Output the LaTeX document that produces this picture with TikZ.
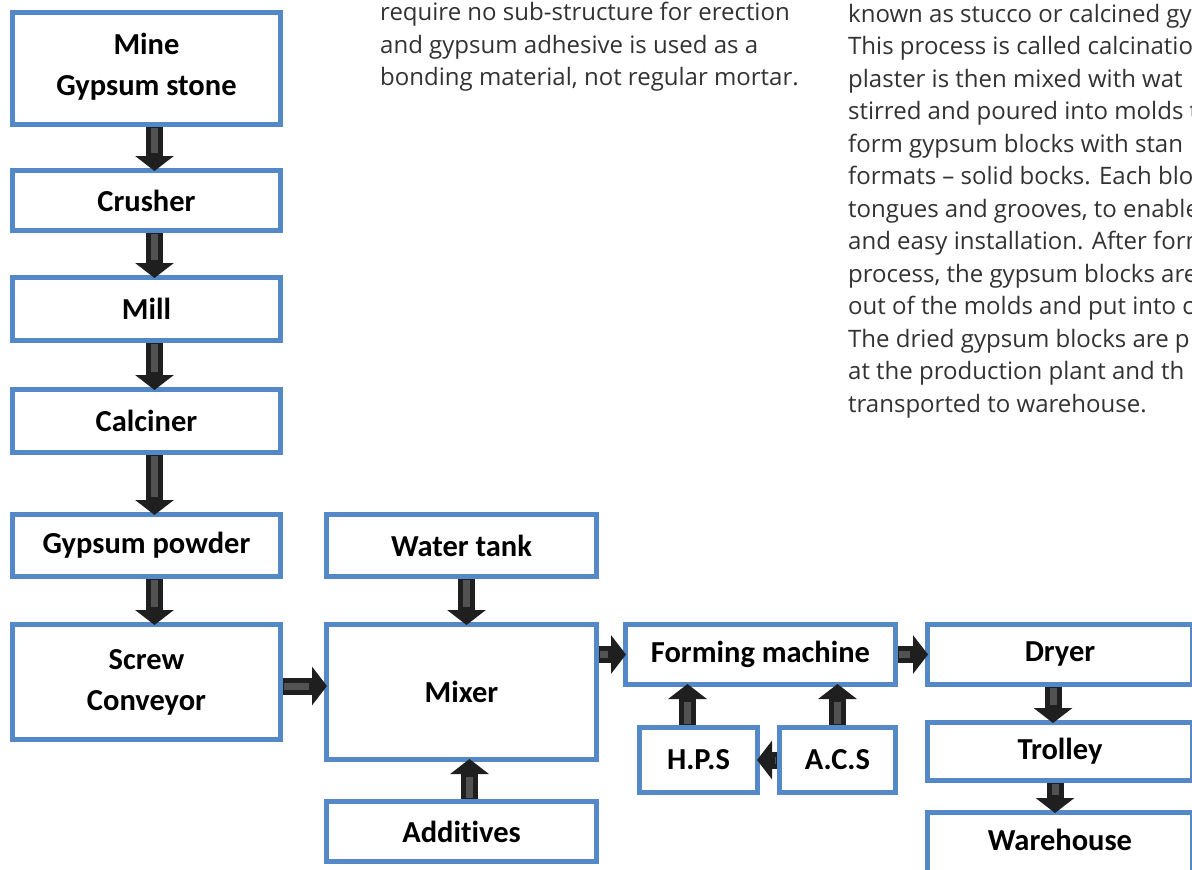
\documentclass[tikz,border=0pt]{standalone}
\usepackage{fontspec}
\usetikzlibrary{arrows.meta,calc}
\setmainfont{Carlito}[Ligatures=NoCommon]
\newfontfamily\bodyfont{Open Sans}
\definecolor{boxblue}{RGB}{84,136,198}
\definecolor{bodygray}{RGB}{50,50,50}
\tikzset{
  box/.style={draw=boxblue, line width=5pt, fill=white, inner sep=0pt, align=center,
    text=black, font=\bfseries\fontsize{30.5}{41}\selectfont},
  flowarrow/.style={draw=black!88, line width=17pt, -{Triangle[width=38pt,length=15pt]},
    shorten >=-3pt,
    postaction={draw=black!68, line width=7pt, -, shorten >=15pt, shorten <=1pt}},
  bodytext/.style={anchor=base west, inner sep=0pt, text=bodygray,
    font=\bodyfont\fontsize{24}{32}\selectfont}
}
\begin{document}
\begin{tikzpicture}[x=1pt,y=-1pt]
\useasboundingbox (0,0) rectangle (1192,870);
\clip (0,0) rectangle (1192,870);
% left column
\node[box, minimum width=268pt, minimum height=112pt] (mine) at (146.5,68.5) {Mine\\Gypsum stone\\[-32pt]\mbox{}};
\node[box, minimum width=268pt, minimum height=60pt] (crusher) at (146.5,200.5) {Crusher};
\node[box, minimum width=268pt, minimum height=63pt] (mill) at (146.5,309) {Mill};
\node[box, minimum width=268pt, minimum height=63pt] (calciner) at (146.5,421) {Calciner};
\node[box, minimum width=268pt, minimum height=62pt] (powder) at (146.5,545.5) {Gypsum powder};
\node[box, minimum width=268pt, minimum height=115pt] (screw) at (146.5,682) {Screw\\Conveyor};
% middle column
\node[box, minimum width=270pt, minimum height=62pt] (water) at (461.5,545.5) {Water tank};
\node[box, minimum width=270pt, minimum height=135pt] (mixer) at (461.5,692) {Mixer};
\node[box, minimum width=270pt, minimum height=60pt] (additives) at (461.5,831.5) {Additives};
% forming group
\node[box, minimum width=270pt, minimum height=60pt] (forming) at (760.5,654.5) {Forming machine};
\node[box, minimum width=118pt, minimum height=65pt] (hps) at (698.5,760) {H.P.S};
\node[box, minimum width=116pt, minimum height=65pt] (acs) at (837.5,760) {A.C.S};
% right column
\node[box, minimum width=265pt, minimum height=60pt] (dryer) at (1060,654.5) {Dryer};
\node[box, minimum width=265pt, minimum height=58pt] (trolley) at (1060,751.5) {Trolley};
\node[box, minimum width=265pt, minimum height=65pt, text depth=10pt] (warehouse) at (1060,845) {Warehouse};
% arrows
\draw[flowarrow] ([xshift=8pt]mine.south) -- ([xshift=8pt]crusher.north);
\draw[flowarrow] ([xshift=8pt]crusher.south) -- ([xshift=8pt]mill.north);
\draw[flowarrow] ([xshift=8pt]mill.south) -- ([xshift=8pt]calciner.north);
\draw[flowarrow] ([xshift=8pt]calciner.south) -- ([xshift=8pt]powder.north);
\draw[flowarrow] ([xshift=8pt]powder.south) -- ([xshift=8pt]screw.north);
\draw[flowarrow] ([xshift=5pt]water.south) -- ([xshift=5pt]mixer.north);
\draw[flowarrow] ([xshift=8pt]additives.north) -- ([xshift=8pt]mixer.south);
\draw[flowarrow] ([yshift=-4pt]screw.east) -- ([yshift=-4pt]screw.east -| mixer.west);
\draw[flowarrow] (mixer.east |- forming.west) -- (forming.west);
\draw[flowarrow] (forming.east) -- (dryer.west);
\draw[flowarrow] ([xshift=-11pt]hps.north) -- ([xshift=-11pt]hps.north |- forming.south);
\draw[flowarrow] (acs.north) -- (acs.north |- forming.south);
\draw[flowarrow] (acs.west) -- (hps.east);
\draw[flowarrow] ([xshift=-7pt]dryer.south) -- ([xshift=-7pt]trolley.north);
\draw[flowarrow] ([xshift=-5pt]trolley.south) -- ([xshift=-5pt]warehouse.north);
% body text, left block
\node[bodytext] (la) at (380,20.5) {require no sub-structure for erection};
\node[bodytext] (lb) at (380,53) {and gypsum adhesive is used as a};
\node[bodytext] (lc) at (380,85.5) {bonding material, not regular mortar.};
% body text, right block
\node[bodytext] (r1) at (848,22) {known as stucco or calcined gy};
\node[bodytext] (r2) at (848,54.5) {This process is called calcinatio};
\node[bodytext] (r3) at (848,87) {plaster is then mixed with wat};
\node[bodytext] (r4) at (848,119.5) {stirred and poured into molds t};
\node[bodytext] (r5) at (848,152) {form gypsum blocks with stan};
\node[bodytext] (r6) at (848,184.5) {formats – solid bocks. Each blo};
\node[bodytext] (r7) at (848,217) {tongues and grooves, to enable};
\node[bodytext] (r8) at (848,249.5) {and easy installation. After form};
\node[bodytext] (r9) at (848,282) {process, the gypsum blocks are};
\node[bodytext] (r10) at (848,314.5) {out of the molds and put into c};
\node[bodytext] (r11) at (848,347) {The dried gypsum blocks are p};
\node[bodytext] (r12) at (848,379.5) {at the production plant and th};
\node[bodytext] (r13) at (848,412) {transported to warehouse.};
\end{tikzpicture}
\end{document}
